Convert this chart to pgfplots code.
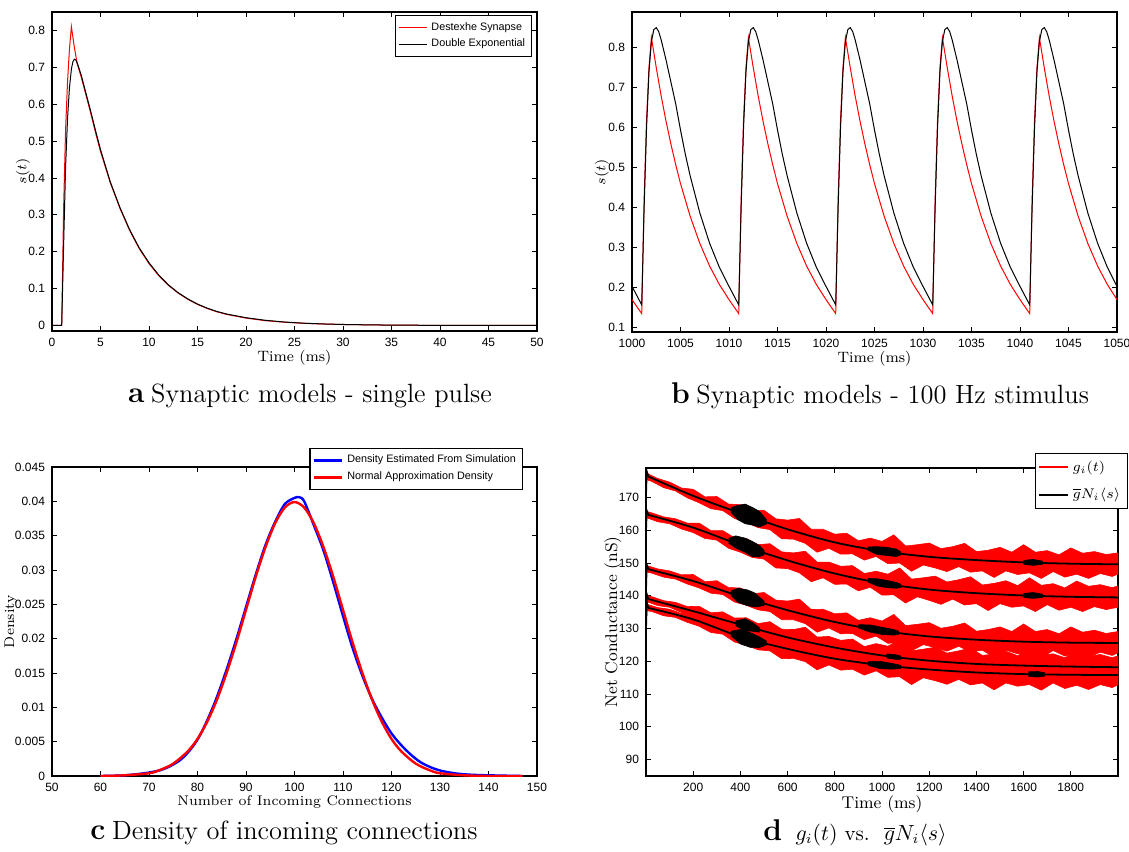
\documentclass[border=0pt]{standalone}
\usepackage{fontspec}
\usepackage{pgfplots}
\pgfplotsset{compat=1.18}
\newfontfamily\matlab{Liberation Sans}

% matlab-like look shared by the four panels
\pgfplotsset{
  mstyle/.style={
    scale only axis,
    axis line style={line width=0.6pt},
    tick style={line width=0.4pt, black},
    major tick length=2.5pt,
    tick align=inside,
    ticklabel style={font=\matlab\fontsize{6}{7}\selectfont},
    /pgf/number format/assume math mode=true,
    /pgf/number format/1000 sep={},
    label style={font=\fontsize{7.5}{9}\selectfont},
    xlabel style={yshift=5pt},
    legend style={font=\matlab\fontsize{5.4}{6.5}\selectfont, draw=black, line width=0.6pt,
      fill=white, inner sep=1.2pt, row sep=-1pt},
    legend cell align=left,
    legend image code/.code={\draw[#1] (0cm,0cm) -- (0.5cm,0cm);},
  }
}

\begin{document}
\begin{tikzpicture}
\useasboundingbox (0,0) rectangle (564.5pt,425.5pt);

% ---------------- a: single pulse ----------------
\begin{axis}[mstyle, at={(26pt,260pt)}, anchor=south west,
  width=242.5pt, height=159.5pt,
  xmin=0, xmax=50, ymin=-0.015, ymax=0.85,
  xtick={0,5,10,15,20,25,30,35,40,45,50},
  ytick={0,0.1,0.2,0.3,0.4,0.5,0.6,0.7,0.8},
  xlabel={Time (ms)}, ylabel={$s(t)$},
  ylabel style={at={(axis description cs:-0.06,0.5)}, anchor=center},
  legend style={at={(0.99,0.99)}, anchor=north east}]
\addplot[red, line width=0.5pt] coordinates {
 (0,0) (1,0) (1.2,0.32) (1.4,0.53) (1.6,0.66) (1.8,0.75) (2,0.81) (2.3,0.755)
 (2.6,0.71) (3,0.675) (3.5,0.625) (4,0.575) (4.5,0.522) (5,0.472) (6,0.388)
 (7,0.318) (8,0.258) (9,0.208) (10,0.168) (11,0.135) (12,0.109) (13,0.088)
 (14,0.071) (15,0.057) (16,0.046) (17,0.037) (18,0.030) (20,0.020) (22,0.013)
 (24,0.0088) (26,0.0058) (28,0.0039) (30,0.0026) (33,0.0014) (36,0.0008)
 (40,0.0003) (45,0.0001) (50,0)
};
\addlegendentry{Destexhe Synapse}
\addplot[black, line width=0.5pt] coordinates {
 (0,0) (1,0) (1.2,0.22) (1.4,0.43) (1.6,0.56) (1.8,0.645) (2,0.695) (2.15,0.715)
 (2.3,0.722) (2.45,0.72) (2.6,0.712) (3,0.68) (3.5,0.63) (4,0.58) (4.5,0.527)
 (5,0.477) (6,0.39) (7,0.32) (8,0.26) (9,0.21) (10,0.17) (11,0.137) (12,0.11)
 (13,0.089) (14,0.072) (15,0.058) (16,0.047) (17,0.038) (18,0.031) (20,0.021)
 (22,0.014) (24,0.0092) (26,0.0061) (28,0.0041) (30,0.0027) (33,0.0015)
 (36,0.0008) (40,0.0003) (45,0.0001) (50,0)
};
\addlegendentry{Double Exponential}
\end{axis}

% ---------------- b: 100 Hz stimulus ----------------
\begin{axis}[mstyle, at={(316pt,259.5pt)}, anchor=south west,
  width=242.5pt, height=160pt,
  xmin=1000, xmax=1050, ymin=0.089, ymax=0.889,
  xtick={1000,1005,1010,1015,1020,1025,1030,1035,1040,1045,1050},
  ytick={0.1,0.2,0.3,0.4,0.5,0.6,0.7,0.8},
  xlabel={Time (ms)}, ylabel={$s(t)$},
  ylabel style={at={(axis description cs:-0.062,0.5)}, anchor=center}]
\addplot[red, line width=0.5pt] coordinates {
 (1000,0.170)
 (1001,0.135) (1001.25,0.42) (1001.5,0.62) (1001.75,0.75) (1002,0.825) (1002.5,0.75)
 (1003,0.68) (1003.5,0.617) (1004,0.56) (1004.5,0.508) (1005,0.46) (1006,0.378)
 (1007,0.31) (1008,0.254) (1009,0.208) (1010,0.17)
 (1011,0.135) (1011.25,0.42) (1011.5,0.62) (1011.75,0.75) (1012,0.825) (1012.5,0.75)
 (1013,0.68) (1013.5,0.617) (1014,0.56) (1014.5,0.508) (1015,0.46) (1016,0.378)
 (1017,0.31) (1018,0.254) (1019,0.208) (1020,0.17)
 (1021,0.135) (1021.25,0.42) (1021.5,0.62) (1021.75,0.75) (1022,0.825) (1022.5,0.75)
 (1023,0.68) (1023.5,0.617) (1024,0.56) (1024.5,0.508) (1025,0.46) (1026,0.378)
 (1027,0.31) (1028,0.254) (1029,0.208) (1030,0.17)
 (1031,0.135) (1031.25,0.42) (1031.5,0.62) (1031.75,0.75) (1032,0.825) (1032.5,0.75)
 (1033,0.68) (1033.5,0.617) (1034,0.56) (1034.5,0.508) (1035,0.46) (1036,0.378)
 (1037,0.31) (1038,0.254) (1039,0.208) (1040,0.17)
 (1041,0.135) (1041.25,0.42) (1041.5,0.62) (1041.75,0.75) (1042,0.825) (1042.5,0.75)
 (1043,0.68) (1043.5,0.617) (1044,0.56) (1044.5,0.508) (1045,0.46) (1046,0.378)
 (1047,0.31) (1048,0.254) (1049,0.208) (1050,0.17)
};
\addplot[black, line width=0.5pt] coordinates {
 (1000,0.203)
 (1001,0.157) (1001.25,0.40) (1001.5,0.60) (1001.75,0.74) (1002,0.815) (1002.25,0.845)
 (1002.5,0.85) (1002.75,0.84) (1003,0.82) (1003.5,0.77) (1004,0.715) (1004.5,0.66)
 (1005,0.594) (1005.5,0.533) (1006,0.479) (1007,0.386) (1008,0.311) (1009,0.251) (1010,0.203)
 (1011,0.157) (1011.25,0.40) (1011.5,0.60) (1011.75,0.74) (1012,0.815) (1012.25,0.845)
 (1012.5,0.85) (1012.75,0.84) (1013,0.82) (1013.5,0.77) (1014,0.715) (1014.5,0.66)
 (1015,0.594) (1015.5,0.533) (1016,0.479) (1017,0.386) (1018,0.311) (1019,0.251) (1020,0.203)
 (1021,0.157) (1021.25,0.40) (1021.5,0.60) (1021.75,0.74) (1022,0.815) (1022.25,0.845)
 (1022.5,0.85) (1022.75,0.84) (1023,0.82) (1023.5,0.77) (1024,0.715) (1024.5,0.66)
 (1025,0.594) (1025.5,0.533) (1026,0.479) (1027,0.386) (1028,0.311) (1029,0.251) (1030,0.203)
 (1031,0.157) (1031.25,0.40) (1031.5,0.60) (1031.75,0.74) (1032,0.815) (1032.25,0.845)
 (1032.5,0.85) (1032.75,0.84) (1033,0.82) (1033.5,0.77) (1034,0.715) (1034.5,0.66)
 (1035,0.594) (1035.5,0.533) (1036,0.479) (1037,0.386) (1038,0.311) (1039,0.251) (1040,0.203)
 (1041,0.157) (1041.25,0.40) (1041.5,0.60) (1041.75,0.74) (1042,0.815) (1042.25,0.845)
 (1042.5,0.85) (1042.75,0.84) (1043,0.82) (1043.5,0.77) (1044,0.715) (1044.5,0.66)
 (1045,0.594) (1045.5,0.533) (1046,0.479) (1047,0.386) (1048,0.311) (1049,0.251) (1050,0.203)
};
\end{axis}

% ---------------- c: incoming connections ----------------
\begin{axis}[mstyle, at={(26pt,37.5pt)}, anchor=south west,
  width=242.5pt, height=154.5pt,
  xmin=50, xmax=150, ymin=0, ymax=0.045,
  xtick={50,60,70,80,90,100,110,120,130,140,150},
  ytick={0,0.005,0.01,0.015,0.02,0.025,0.03,0.035,0.04,0.045},
  scaled y ticks=false,
  yticklabel style={/pgf/number format/fixed, /pgf/number format/precision=3},
  label style={font=\fontsize{7}{8.5}\selectfont},
  xlabel={Number of Incoming Connections}, ylabel={Density},
  ylabel style={at={(axis description cs:-0.085,0.5)}, anchor=center},
  legend style={at={(0.971,1.061)}, anchor=north east}]
\addplot[blue, line width=1.2pt, smooth] coordinates {
 (60,0.0000) (65,0.0001) (70,0.0005) (73,0.0010) (76,0.0021) (78,0.0034) (80,0.0053)
 (82,0.0081) (84,0.0115) (86,0.0155) (88,0.0199) (90,0.0246) (92,0.0293) (94,0.0336)
 (96,0.0370) (98,0.0396) (100,0.0405) (101,0.0406) (102,0.0400) (104,0.0365)
 (106,0.0328) (108,0.0282) (110,0.0233) (112,0.0186) (114,0.0146) (116,0.0112)
 (118,0.0085) (120,0.0062) (122,0.0045) (124,0.0031) (126,0.0020) (128,0.0013)
 (130,0.0008) (133,0.0004) (136,0.0002) (140,0.0001) (147,0.0000)
};
\addlegendentry{Density Estimated From Simulation}
\addplot[red, line width=1.2pt, smooth] coordinates {
 (60,0.0000) (65,0.0001) (70,0.0004) (72,0.0008) (75,0.0018) (78,0.0036) (80,0.0054)
 (82,0.0079) (84,0.0111) (86,0.0150) (88,0.0194) (90,0.0242) (92,0.0290) (94,0.0333)
 (96,0.0368) (98,0.0391) (100,0.0399) (102,0.0391) (104,0.0368) (106,0.0333)
 (108,0.0290) (110,0.0242) (112,0.0194) (114,0.0150) (116,0.0111) (118,0.0079)
 (120,0.0054) (122,0.0036) (125,0.0018) (128,0.0008) (130,0.0004) (135,0.0001)
 (140,0.0000) (147,0.0000)
};
\addlegendentry{Normal Approximation Density}
\end{axis}

% ---------------- d: net conductance ----------------
\begin{axis}[mstyle, at={(323pt,37.5pt)}, anchor=south west,
  width=236pt, height=154pt,
  xmin=0, xmax=2000, ymin=85, ymax=179,
  xtick={200,400,600,800,1000,1200,1400,1600,1800},
  ytick={90,100,110,120,130,140,150,160,170},
  label style={font=\fontsize{8.5}{10}\selectfont},
  xlabel={Time (ms)}, ylabel={Net Conductance (nS)},
  ylabel style={at={(axis description cs:-0.07,0.5)}, anchor=center},
  legend style={at={(1.021,1.049)}, anchor=north east,
    font=\fontsize{7.5}{9}\selectfont, row sep=3pt, inner sep=1.5pt}]
% red bands: upper edge then lower edge
\addplot[fill=red, draw=red, line width=0.3pt, forget plot] coordinates {
 (0,177.5) (50,175.8) (100,174.7) (150,172.9) (200,172.5) (250,170.2) (300,170.3) (350,168.0)
 (400,167.8) (450,165.8) (500,166.1) (550,163.5) (600,163.1) (650,163.6) (700,160.3) (750,160.3)
 (800,158.8) (850,159.1) (900,156.8) (950,157.6) (1000,156.6) (1050,158.6) (1100,155.2)
 (1150,155.6) (1200,156.1) (1250,154.4) (1300,155.0) (1350,156.0) (1400,153.5) (1450,153.9)
 (1500,154.8) (1550,153.3) (1600,155.6) (1650,153.3) (1700,153.8) (1750,152.5) (1800,154.6)
 (1850,153.0) (1900,153.5) (1950,152.6) (2000,153.1)
 (2000,146.6) (1975,145.9) (1925,146.8) (1875,145.3) (1825,146.6) (1775,145.7) (1725,147.4)
 (1675,145.3) (1625,147.0) (1575,146.5) (1525,147.6) (1475,145.6) (1425,147.6) (1375,147.2)
 (1325,148.9) (1275,147.4) (1225,148.5) (1175,149.4) (1125,147.5) (1075,150.0) (1025,149.8)
 (975,152.0) (925,150.9) (875,152.8) (825,152.7) (775,154.5) (725,153.3) (675,156.0)
 (625,157.3) (575,157.4) (525,160.2) (475,160.8) (425,162.4) (375,163.6) (325,166.0)
 (275,166.6) (225,168.4) (175,169.9) (125,172.0) (75,173.0) (25,174.9) (0,175.5)
};
\addplot[fill=red, draw=red, line width=0.3pt, forget plot] coordinates {
 (0,165.8) (25,165.3) (75,164.1) (125,163.5) (175,162.2) (225,162.2) (275,159.9) (325,159.9)
 (375,157.7) (425,157.5) (475,155.6) (525,155.9) (575,153.4) (625,153.1) (675,153.6)
 (725,150.3) (775,150.3) (825,149.0) (875,149.2) (925,146.8) (975,147.5) (1025,146.6)
 (1075,148.5) (1125,145.1) (1175,145.5) (1225,146.0) (1275,144.2) (1325,144.9) (1375,145.8)
 (1425,143.3) (1475,143.8) (1525,144.6) (1575,143.1) (1625,145.5) (1675,143.2) (1725,143.7)
 (1775,142.4) (1825,144.5) (1875,142.9) (1925,143.4) (1975,142.5) (2000,143.0)
 (2000,136.5) (1950,135.8) (1900,136.7) (1850,135.2) (1800,136.5) (1750,135.6) (1700,137.3)
 (1650,135.2) (1600,136.9) (1550,136.5) (1500,137.6) (1450,135.5) (1400,137.6) (1350,137.2)
 (1300,139.0) (1250,137.4) (1200,138.6) (1150,139.7) (1100,137.8) (1050,140.3) (1000,140.2)
 (950,142.6) (900,141.5) (850,143.6) (800,143.5) (750,145.5) (700,144.3) (650,147.0)
 (600,148.3) (550,148.5) (500,151.2) (450,151.7) (400,153.3) (350,154.5) (300,157.0)
 (250,157.5) (200,159.3) (150,160.4) (100,162.0) (50,162.6) (0,163.9)
};
\addplot[fill=red, draw=red, line width=0.3pt, forget plot] coordinates {
 (0,149.3) (50,148.2) (100,147.6) (150,146.4) (200,146.5) (250,144.3) (300,144.6) (350,142.5)
 (400,142.4) (450,140.6) (500,141.0) (550,138.7) (600,138.4) (650,139.0) (700,135.8) (750,135.9)
 (800,134.5) (850,134.8) (900,132.5) (950,133.3) (1000,132.3) (1050,134.3) (1100,130.9)
 (1150,131.3) (1200,131.8) (1250,130.1) (1300,130.7) (1350,131.7) (1400,129.2) (1450,129.7)
 (1500,130.5) (1550,129.1) (1600,131.4) (1650,129.1) (1700,129.7) (1750,128.4) (1800,130.5)
 (1850,128.9) (1900,129.5) (1950,128.5) (2000,129.1)
 (2000,122.6) (1975,121.8) (1925,122.8) (1875,121.2) (1825,122.5) (1775,121.6) (1725,123.3)
 (1675,121.1) (1625,122.8) (1575,122.3) (1525,123.4) (1475,121.3) (1425,123.4) (1375,122.9)
 (1325,124.6) (1275,123.1) (1225,124.2) (1175,125.1) (1125,123.2) (1075,125.7) (1025,125.5)
 (975,127.7) (925,126.6) (875,128.5) (825,128.4) (775,130.2) (725,128.9) (675,131.5)
 (625,132.7) (575,132.7) (525,135.2) (475,135.7) (425,137.1) (375,138.1) (325,140.4)
 (275,140.8) (225,142.4) (175,143.6) (125,145.1) (75,145.7) (25,146.9) (0,147.3)
};
\addplot[fill=red, draw=red, line width=0.3pt, forget plot] coordinates {
 (0,140.2) (25,139.7) (75,138.5) (125,138.0) (175,136.7) (225,136.8) (275,134.8) (325,135.1)
 (375,133.2) (425,133.3) (475,131.5) (525,132.1) (575,129.8) (625,129.7) (675,130.4)
 (725,127.4) (775,127.6) (825,126.4) (875,126.8) (925,124.5) (975,125.4) (1025,124.6)
 (1075,126.6) (1125,123.2) (1175,123.7) (1225,124.3) (1275,122.5) (1325,123.2) (1375,124.1)
 (1425,121.8) (1475,122.2) (1525,123.1) (1575,121.7) (1625,124.1) (1675,121.8) (1725,122.3)
 (1775,121.1) (1825,123.2) (1875,121.5) (1925,122.1) (1975,121.1) (2000,121.7)
 (2000,115.2) (1950,114.5) (1900,115.4) (1850,113.9) (1800,115.2) (1750,114.3) (1700,116.0)
 (1650,113.8) (1600,115.5) (1550,115.0) (1500,116.1) (1450,114.0) (1400,116.0) (1350,115.6)
 (1300,117.3) (1250,115.8) (1200,116.9) (1150,117.9) (1100,115.9) (1050,118.4) (1000,118.2)
 (950,120.4) (900,119.2) (850,121.1) (800,120.9) (750,122.7) (700,121.3) (650,123.7)
 (600,124.8) (550,124.8) (500,127.3) (450,127.6) (400,129.0) (350,129.9) (300,132.1)
 (250,132.3) (200,133.8) (150,134.9) (100,136.5) (50,137.0) (0,138.3)
};
\addplot[fill=red, draw=red, line width=0.3pt, forget plot] coordinates {
 (0,137.5) (50,136.4) (100,135.9) (150,134.6) (200,134.8) (250,132.5) (300,132.6) (350,130.3)
 (400,130.1) (450,128.4) (500,129.0) (550,126.7) (600,126.6) (650,127.4) (700,124.3) (750,124.6)
 (800,123.3) (850,123.8) (900,121.6) (950,122.6) (1000,121.8) (1050,123.9) (1100,120.6)
 (1150,121.1) (1200,121.7) (1250,120.0) (1300,120.7) (1350,121.6) (1400,119.2) (1450,119.7)
 (1500,120.6) (1550,119.1) (1600,121.5) (1650,119.3) (1700,119.8) (1750,118.6) (1800,120.7)
 (1850,119.1) (1900,119.7) (1950,118.7) (2000,119.3)
 (2000,112.8) (1975,112.0) (1925,112.9) (1875,111.4) (1825,112.7) (1775,111.7) (1725,113.4)
 (1675,111.2) (1625,112.9) (1575,112.4) (1525,113.4) (1475,111.3) (1425,113.4) (1375,112.8)
 (1325,114.5) (1275,113.0) (1225,114.1) (1175,115.0) (1125,112.9) (1075,115.3) (1025,115.1)
 (975,117.1) (925,115.8) (875,117.6) (825,117.3) (775,118.9) (725,117.4) (675,119.9)
 (625,120.9) (575,120.8) (525,123.2) (475,123.5) (425,124.9) (375,125.9) (325,128.3)
 (275,128.8) (225,130.7) (175,131.9) (125,133.4) (75,133.9) (25,135.2) (0,135.5)
};
% black mean curves
\addplot[black, line width=0.9pt, forget plot] coordinates {(0,171) (3,178) (10,176.4)};
\addplot[black, line width=0.9pt, smooth, forget plot] coordinates {
 (10,176.4) (200,170.5) (400,165.2) (600,160.3) (800,156.3) (1000,153.6) (1200,151.9)
 (1400,150.9) (1600,150.2) (1800,149.8) (2000,149.6)};
\addplot[black, line width=0.9pt, forget plot] coordinates {(0,160) (3,166) (10,164.7)};
\addplot[black, line width=0.9pt, smooth, forget plot] coordinates {
 (10,164.7) (200,160.8) (400,155.5) (600,150.8) (800,146.8) (1000,143.8) (1200,141.9)
 (1400,140.8) (1600,140.1) (1800,139.7) (2000,139.5)};
\addplot[black, line width=0.9pt, forget plot] coordinates {(0,142) (3,149.5) (10,148.1)};
\addplot[black, line width=0.9pt, smooth, forget plot] coordinates {
 (10,148.1) (200,144.5) (400,139.8) (600,135.6) (800,132.0) (1000,129.3) (1200,127.6)
 (1400,126.6) (1600,126.0) (1800,125.7) (2000,125.6)};
\addplot[black, line width=0.9pt, forget plot] coordinates {(0,133) (3,140.5) (10,139.0)};
\addplot[black, line width=0.9pt, smooth, forget plot] coordinates {
 (10,139.0) (200,135.3) (400,131.2) (600,127.3) (800,124.2) (1000,121.8) (1200,120.2)
 (1400,119.2) (1600,118.7) (1800,118.4) (2000,118.2)};
\addplot[black, line width=0.9pt, forget plot] coordinates {(0,130) (3,138) (10,136.3)};
\addplot[black, line width=0.9pt, smooth, forget plot] coordinates {
 (10,136.3) (200,132.8) (400,127.5) (600,123.8) (800,120.8) (1000,118.8) (1200,117.5)
 (1400,116.6) (1600,116.1) (1800,115.9) (2000,115.8)};
% black noisy patches
\addplot[fill=black, draw=black, line width=0.3pt, forget plot] coordinates {
 (360,166.9) (390,167.6) (420,168.0) (450,167.0) (480,165.8) (510,163.3)
 (510,161.9) (480,161.0) (450,161.6) (420,162.0) (390,163.2) (360,165.5)};
\addplot[fill=black, draw=black, line width=0.3pt, forget plot] coordinates {
 (350,157.5) (380,158.3) (420,157.6) (450,156.6) (480,155.4) (500,153.9)
 (500,152.5) (480,151.9) (450,152.0) (420,153.3) (380,154.6) (350,156.1)};
\addplot[fill=black, draw=black, line width=0.3pt, forget plot] coordinates {
 (360,141.5) (390,142.3) (430,141.8) (460,140.9) (500,138.4)
 (500,137.0) (460,136.6) (430,137.0) (390,138.0) (360,140.1)};
\addplot[fill=black, draw=black, line width=0.3pt, forget plot] coordinates {
 (380,132.3) (420,133.0) (450,131.9) (480,130.3)
 (480,128.9) (450,129.2) (420,129.2) (380,130.9)};
\addplot[fill=black, draw=black, line width=0.3pt, forget plot] coordinates {
 (360,129.2) (400,129.7) (440,128.8) (480,127.5) (510,126.2)
 (510,125.0) (480,124.2) (440,124.3) (400,125.3) (360,127.8)};
\addplot[fill=black, draw=black, line width=0.3pt, forget plot] coordinates {
 (940,154.9) (980,155.0) (1020,154.8) (1060,154.3) (1080,153.4)
 (1080,152.5) (1060,152.0) (1020,152.3) (980,152.6) (940,153.9)};
\addplot[fill=black, draw=black, line width=0.3pt, forget plot] coordinates {
 (940,145.3) (980,145.2) (1020,144.7) (1060,144.1) (1080,143.5)
 (1080,142.5) (1060,142.3) (1020,142.5) (980,143.0) (940,144.2)};
\addplot[fill=black, draw=black, line width=0.3pt, forget plot] coordinates {
 (900,131.2) (950,131.1) (1000,130.4) (1050,129.7) (1070,129.2)
 (1070,128.2) (1050,128.0) (1000,128.2) (950,128.9) (900,130.2)};
\addplot[fill=black, draw=black, line width=0.3pt, forget plot] coordinates {
 (1020,122.3) (1060,122.0) (1080,121.6) (1080,120.6) (1060,120.6) (1020,121.0)};
\addplot[fill=black, draw=black, line width=0.3pt, forget plot] coordinates {
 (940,119.9) (990,120.0) (1040,119.4) (1080,118.8)
 (1080,117.8) (1040,117.6) (990,117.8) (940,118.8)};
\addplot[fill=black, draw=black, line width=0.3pt, forget plot] coordinates {
 (1600,150.8) (1640,151.1) (1680,150.6) (1680,149.6) (1640,149.3) (1600,149.6)};
\addplot[fill=black, draw=black, line width=0.3pt, forget plot] coordinates {
 (1600,140.7) (1640,141.0) (1680,140.5) (1680,139.5) (1640,139.2) (1600,139.5)};
\addplot[fill=black, draw=black, line width=0.3pt, forget plot] coordinates {
 (1620,116.8) (1660,116.9) (1690,116.5) (1690,115.5) (1660,115.2) (1620,115.4)};
\addlegendimage{red, line width=0.8pt}
\addlegendentry{$g_i(t)$}
\addlegendimage{black, line width=0.8pt}
\addlegendentry{$\overline{g}N_i\langle s\rangle$}
\end{axis}

% panel captions
\node at (155pt,227.5pt) {{\fontsize{15}{17}\selectfont\bfseries a} {\fontsize{13.2}{16}\selectfont Synaptic models - single pulse}};
\node at (440pt,227.5pt) {{\fontsize{15}{17}\selectfont\bfseries b} {\fontsize{13.2}{16}\selectfont Synaptic models - 100 Hz stimulus}};
\node at (142pt,9pt) {{\fontsize{15}{17}\selectfont\bfseries c} {\fontsize{13.2}{16}\selectfont Density of incoming connections}};
\node at (427.5pt,9pt) {{\fontsize{15}{17}\selectfont\bfseries d}\ \ {\fontsize{10.5}{13}\selectfont $g_i(t)$\ vs.\ \ $\overline{g}N_i\langle s\rangle$}};
\end{tikzpicture}
\end{document}
